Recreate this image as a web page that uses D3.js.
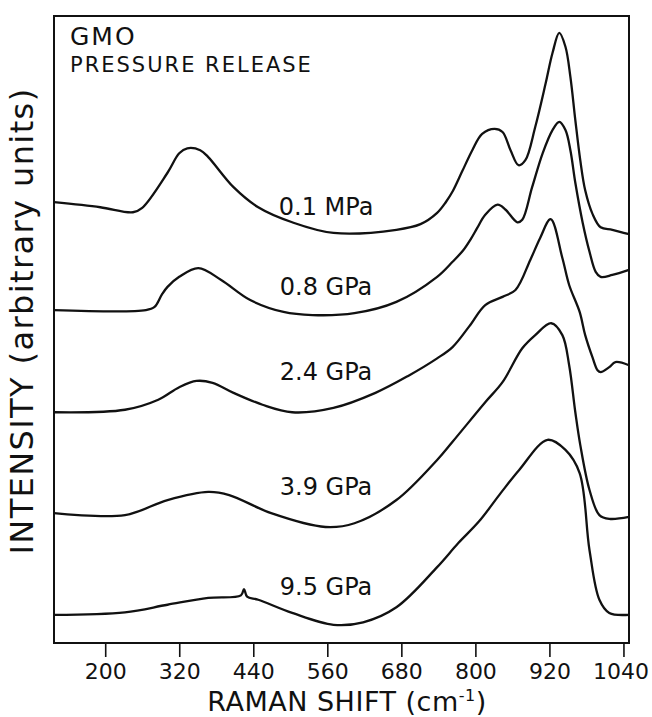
<!DOCTYPE html>
<html>
<head>
<meta charset="utf-8">
<script src="https://cdn.jsdelivr.net/npm/d3@7"></script>
<style>
  body { margin: 0; background: #fff; }
  text { font-family: "DejaVu Sans", sans-serif; fill: #111; }
</style>
</head>
<body>
<div id="chart"></div>
<script>
/* Raman spectra of GMO on pressure release, stacked with offsets */
var labels = ['0.1 MPa', '0.8 GPa', '2.4 GPa', '3.9 GPa', '9.5 GPa'];
var labelInt = [68.3, 55.5, 41.9, 23.6, 7.7];
var labelShift = 558;

var xTicks = [200, 320, 440, 560, 680, 800, 920, 1040];

var shift01 = [117, 192, 245, 260, 301, 320, 333, 354, 367, 408, 448, 503, 570, 672, 711, 738, 752, 763, 779, 795, 811, 831, 844, 857, 870, 881, 897, 914, 925, 936, 946, 954, 962, 970, 978, 990, 1003, 1022, 1049];
var int01   = [70.3, 69.5, 68.7, 69.4, 75.0, 78.1, 78.9, 78.6, 77.5, 72.7, 69.5, 67.1, 65.4, 65.9, 66.8, 68.6, 70.3, 72.0, 75.3, 78.6, 81.2, 82.0, 81.5, 78.6, 76.2, 77.0, 82.3, 89.3, 94.1, 97.3, 95.1, 90.3, 83.4, 77.0, 72.2, 68.4, 66.3, 65.9, 65.2];

var shift08 = [117, 266, 280, 292, 301, 320, 351, 388, 435, 489, 536, 604, 672, 738, 763, 780, 793, 803, 816, 836, 849, 868, 876, 892, 909, 925, 936, 946, 954, 962, 974, 985, 995, 1003, 1022, 1049];
var int08   = [53.1, 53.1, 53.6, 55.6, 56.8, 58.4, 59.8, 57.9, 54.7, 52.8, 52.3, 52.6, 54.4, 58.4, 60.8, 62.6, 64.5, 66.2, 68.3, 69.9, 69.1, 67.1, 67.5, 72.7, 78.1, 81.8, 83.1, 81.8, 78.6, 73.4, 67.0, 62.4, 59.2, 58.4, 58.7, 59.5];

var shift24 = [117, 232, 286, 320, 348, 374, 408, 455, 503, 570, 638, 691, 738, 763, 790, 816, 844, 865, 889, 905, 922, 941, 952, 969, 978, 990, 998, 1003, 1017, 1027, 1049];
var int24   = [36.8, 37.2, 38.8, 40.8, 41.8, 41.5, 39.9, 38.0, 36.8, 37.5, 39.9, 42.6, 45.4, 47.2, 50.5, 53.9, 55.2, 56.3, 61.1, 64.6, 67.6, 61.4, 57.1, 52.8, 49.1, 45.5, 43.5, 43.2, 44.0, 44.8, 44.3];

var shift39 = [117, 232, 301, 367, 401, 469, 557, 604, 672, 738, 763, 816, 844, 876, 897, 923, 941, 952, 962, 970, 985, 1001, 1017, 1049];
var int39   = [20.7, 20.4, 22.8, 24.1, 23.6, 20.7, 18.5, 19.1, 22.8, 29.2, 32.1, 38.4, 41.6, 47.0, 49.1, 51.0, 49.1, 44.3, 36.8, 31.6, 24.4, 20.4, 19.8, 20.1];

var shift95 = [117, 232, 301, 367, 420, 425, 430, 448, 503, 570, 618, 672, 738, 772, 806, 841, 871, 917, 946, 969, 985, 1001, 1017, 1049];
var int95   = [4.5, 4.9, 6.1, 7.2, 7.6, 8.6, 7.4, 6.9, 4.8, 2.9, 3.3, 5.7, 12.1, 15.9, 19.4, 23.9, 27.6, 32.4, 30.8, 27.1, 14.8, 6.9, 4.8, 4.5];

var shifts = [shift01, shift08, shift24, shift39, shift95];
var ints   = [int01, int08, int24, int39, int95];

var width = 652, height = 717;
var margin = { left: 54, right: 23, top: 16, bottom: 74 };

var svg = d3.select('#chart').append('svg')
  .attr('width', width)
  .attr('height', height);

var x = d3.scaleLinear()
  .domain([117, 1049])
  .range([margin.left, width - margin.right]);

var y = d3.scaleLinear()
  .domain([0, 100])
  .range([height - margin.bottom, margin.top]);

/* frame */
svg.append('rect')
  .attr('x', x.range()[0])
  .attr('y', y.range()[1])
  .attr('width', x.range()[1] - x.range()[0])
  .attr('height', y.range()[0] - y.range()[1])
  .attr('fill', 'none')
  .attr('stroke', '#111')
  .attr('stroke-width', 2);

var xAxis = svg.append('g')
  .attr('transform', 'translate(0,' + y.range()[0] + ')')
  .call(d3.axisBottom(x)
    .tickValues(xTicks)
    .tickFormat(d3.format('d'))
    .tickSize(14)
    .tickPadding(6));

xAxis.select('.domain').remove();
xAxis.selectAll('line').attr('stroke', '#111').attr('stroke-width', 1.6);
xAxis.selectAll('text')
  .style('font-family', '"DejaVu Sans", sans-serif')
  .style('font-size', '22px')
  .attr('fill', '#111');
/* keep the last label inside the page */
xAxis.selectAll('text')
  .filter(function (d) { return d === 1040; })
  .attr('dx', -3);

var line = d3.line()
  .x(function (d) { return x(d[0]); })
  .y(function (d) { return y(d[1]); })
  .curve(d3.curveCatmullRom.alpha(0.5));

shifts.forEach(function (s, i) {
  var pts = s.map(function (v, j) { return [v, ints[i][j]]; });
  svg.append('path')
    .datum(pts)
    .attr('d', line)
    .attr('fill', 'none')
    .attr('stroke', '#111')
    .attr('stroke-width', 2.3)
    .attr('stroke-linejoin', 'round');
});

/* pressure labels, above each trace */
svg.selectAll('.plabel')
  .data(labels)
  .enter().append('text')
  .attr('class', 'plabel')
  .attr('x', x(labelShift))
  .attr('y', function (d, i) { return y(labelInt[i]); })
  .attr('text-anchor', 'middle')
  .style('font-size', '24px')
  .text(function (d) { return d; });

svg.append('text')
  .attr('x', 70).attr('y', 45)
  .style('font-size', '25px')
  .style('letter-spacing', '2px')
  .text('GMO');

svg.append('text')
  .attr('x', 70).attr('y', 72)
  .style('font-size', '21px')
  .style('letter-spacing', '2px')
  .text('PRESSURE RELEASE');

/* axis titles */
var xt = svg.append('text')
  .attr('x', 347).attr('y', 711)
  .attr('text-anchor', 'middle')
  .style('font-size', '27px')
  .style('letter-spacing', '0.5px');
xt.append('tspan').text('RAMAN SHIFT (cm');
xt.append('tspan').attr('dy', -10).style('font-size', '16px').text('-1');
xt.append('tspan').attr('dy', 10).text(')');

svg.append('text')
  .attr('transform', 'translate(33,321) rotate(-90)')
  .attr('text-anchor', 'middle')
  .style('font-size', '32px')
  .style('letter-spacing', '1.4px')
  .text('INTENSITY (arbitrary units)');
</script>
</body>
</html>
